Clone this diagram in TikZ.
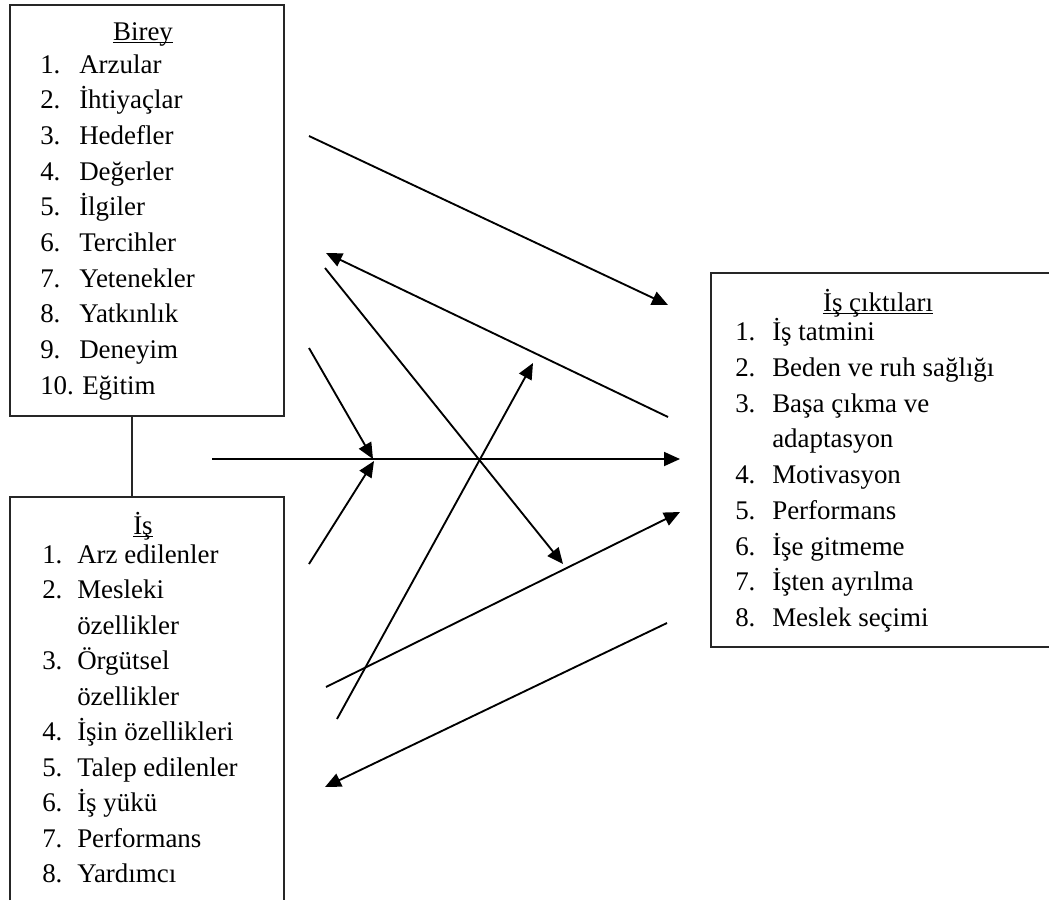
\documentclass[tikz,border=0pt]{standalone}
\usepackage{fontspec}
\setmainfont{Liberation Serif}
\usetikzlibrary{arrows.meta}
\begin{document}
\begin{tikzpicture}[x=0.75pt,y=-0.75pt,
  txt/.style={anchor=base west,inner sep=0pt,font=\fontsize{20.2pt}{24pt}\selectfont},
  head/.style={anchor=base,inner sep=0pt,font=\fontsize{20.2pt}{24pt}\selectfont},
  uline/.style={line width=0.9pt},
  frame/.style={line width=1.3pt,draw=black!85},
  conn/.style={line width=1.4pt},
  arr/.style={conn,-{Triangle[length=12pt,width=10.5pt]}}]
\useasboundingbox (0,0) rectangle (1049,900);
% boxes
\draw[frame] (10,5) rectangle (284,416);
\draw[frame] (10,900) -- (10,497) -- (284,497) -- (284,900);
\draw[frame] (1049,273) -- (711,273) -- (711,647) -- (1049,647);
\coordinate (topS) at (132,416);
\coordinate (botN) at (132,497);
\draw[frame] (topS) -- (botN);
% Birey
\node[head] (bhead) at (143,40) {Birey};
\draw[uline] ([yshift=-2pt]bhead.base west) -- ([yshift=-2pt]bhead.base east);
\foreach \n/\t [count=\i from 0] in {1./Arzular,2./İhtiyaçlar,3./Hedefler,4./Değerler,5./İlgiler,6./Tercihler,7./Yetenekler,8./Yatkınlık,9./Deneyim}{
  \node[txt] (bn\i) at (40,73+35.7*\i) {\n};
  \node[txt] (bt\i) at (79,73+35.7*\i) {\t};
}
\node[txt] (bn9x) at (40,394.3) {10.};
\node[txt] (bt9x) at (82,394.3) {Eğitim};
% Is
\node[head] (ihead) at (143,534) {İş};
\draw[uline] ([yshift=-2pt]ihead.base west) -- ([yshift=-2pt]ihead.base east);
\foreach \n/\t/\y [count=\i] in {1./Arz edilenler/563,2./Mesleki/598.5,/özellikler/634,3./Örgütsel/669.5,/özellikler/705,4./İşin özellikleri/740.5,5./Talep edilenler/776,6./İş yükü/811.5,7./Performans/847,8./Yardımcı/882.5}{
  \node[txt] (in\i) at (42,\y) {\n};
  \node[txt] (it\i) at (77,\y) {\t};
}
% Is ciktilari
\node[head] (ohead) at (878,311) {İş çıktıları};
\draw[uline] ([yshift=-2pt]ohead.base west) -- ([yshift=-2pt]ohead.base east);
\foreach \n/\t/\y [count=\i] in {1./İş tatmini/340,2./Beden ve ruh sağlığı/376,3./Başa çıkma ve/412,/adaptasyon/447,4./Motivasyon/483,5./Performans/519,6./İşe gitmeme/555,7./İşten ayrılma/590,8./Meslek seçimi/626}{
  \node[txt] (on\i) at (735,\y) {\n};
  \node[txt] (ot\i) at (772,\y) {\t};
}
% arrow end points
\coordinate (a1s) at (309,136); \coordinate (a1e) at (668,305);
\coordinate (a2s) at (668,417); \coordinate (a2e) at (326,253);
\coordinate (a3s) at (325,268); \coordinate (a3e) at (563,564);
\coordinate (a4s) at (309,348); \coordinate (a4e) at (373,459);
\coordinate (a5s) at (212,459); \coordinate (a5e) at (680,459);
\coordinate (a6s) at (309,564); \coordinate (a6e) at (374,461);
\coordinate (a7s) at (337,719); \coordinate (a7e) at (533,363);
\coordinate (a8s) at (326,687); \coordinate (a8e) at (680,512);
\coordinate (a9s) at (667,623); \coordinate (a9e) at (325,787);
\foreach \k in {1,...,9}{\draw[arr] (a\k s) -- (a\k e);}
\end{tikzpicture}
\end{document}
